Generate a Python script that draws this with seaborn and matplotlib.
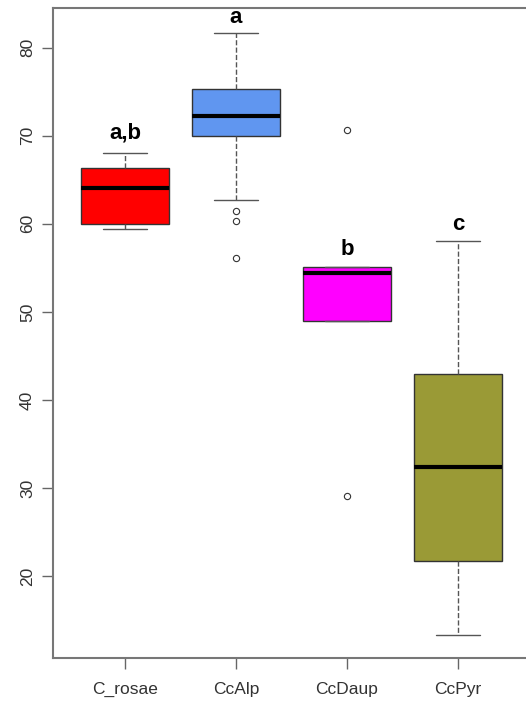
import numpy as np
import seaborn as sns
import matplotlib.pyplot as plt
import pandas as pd

c_rosae = [59.4, 60.0, 64.1, 66.3, 68.0]
cc_alp = [56.1, 60.3, 61.5, 62.7, 70.0, 70.8, 71.3, 71.8, 72.2,
          73.0, 74.1, 74.8, 75.3, 76.5, 78.0, 79.6, 81.7]
cc_daup = [29.1, 49.0, 49.0, 52.0, 54.4, 55.0, 55.1, 55.1, 70.6]
cc_pyr = [13.3, 18.0, 21.7, 27.0, 32.4, 38.0, 43.0, 50.0, 58.0]

groups = ['C_rosae', 'CcAlp', 'CcDaup', 'CcPyr']
colors = ['#ff0000', '#6096f0', '#ff00ff', '#9a9a36']
letters = ['a,b', 'a', 'b', 'c']
letter_y = [70.3, 83.4, 57.1, 59.9]

data = pd.DataFrame({
    'group': ['C_rosae'] * len(c_rosae) + ['CcAlp'] * len(cc_alp)
             + ['CcDaup'] * len(cc_daup) + ['CcPyr'] * len(cc_pyr),
    'value': c_rosae + cc_alp + cc_daup + cc_pyr,
})

sns.set_style('white')
plt.rcParams['font.family'] = ['Liberation Sans', 'DejaVu Sans']

fig = plt.figure(figsize=(5.26, 7.04), dpi=100)
ax = fig.add_axes([53 / 526, 46 / 704, 473 / 526, 650 / 704])

sns.boxplot(x='group', y='value', data=data, order=groups, hue='group',
            palette=colors, saturation=1, legend=False, width=0.8, whis=1.5, ax=ax,
            linecolor='#333333', linewidth=1,
            medianprops=dict(color='black', linewidth=3),
            whiskerprops=dict(color='#555555', linestyle='--', linewidth=1),
            capprops=dict(color='#555555', linewidth=1),
            flierprops=dict(marker='o', markersize=4.5, markerfacecolor='white',
                            markeredgecolor='#333333', markeredgewidth=0.8))

for i, (lab, yv) in enumerate(zip(letters, letter_y)):
    ax.text(i, yv, lab, ha='center', va='center', fontsize=16,
            fontweight='bold', color='black')

ax.set_xlim(-0.649, 3.613)
ax.set_ylim(10.7, 84.5)
ax.set_yticks([20, 30, 40, 50, 60, 70, 80])
ax.set_yticklabels(['20', '30', '40', '50', '60', '70', '80'], rotation=90, va='center')
ax.set_xlabel('')
ax.set_ylabel('')
ax.tick_params(axis='both', direction='out', length=8, width=1, color='#666666',
               labelsize=12.5, labelcolor='#333333', pad=9, left=True, bottom=True)
ax.tick_params(axis='y', pad=5)
for s in ['left', 'bottom', 'top']:
    ax.spines[s].set_color('#777777')
    ax.spines[s].set_linewidth(1.5)
ax.spines['right'].set_visible(False)

fig.savefig('out.png', dpi=100)
